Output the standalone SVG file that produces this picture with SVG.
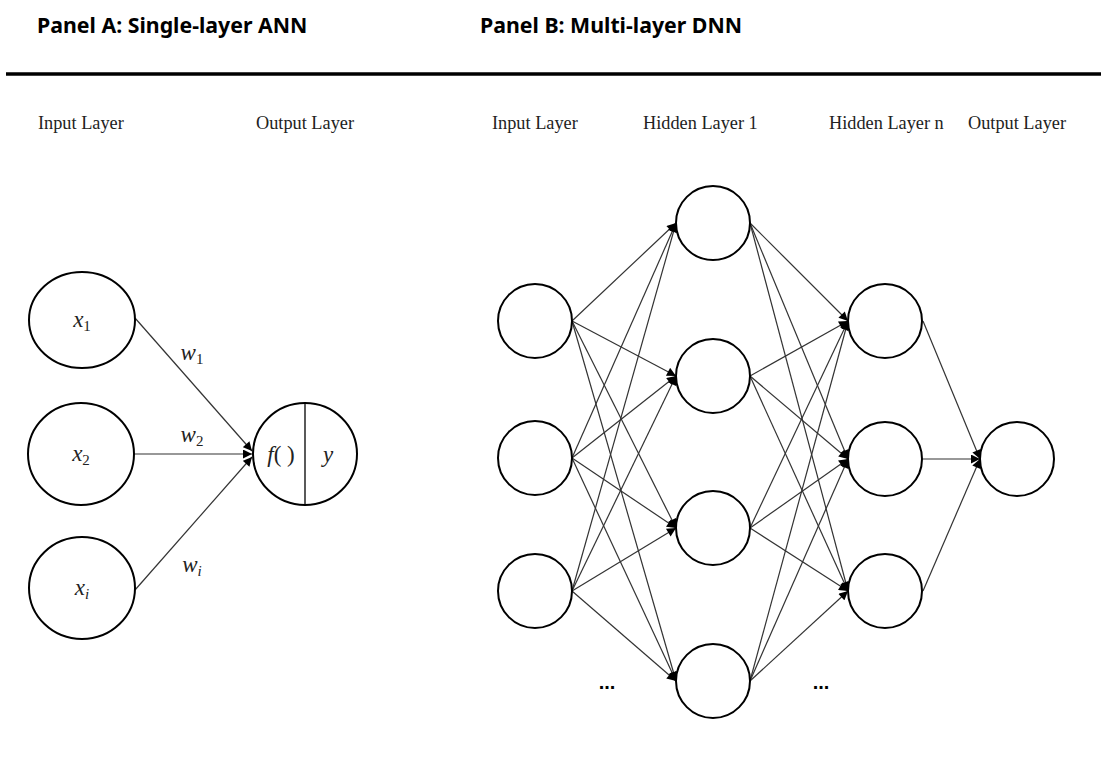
<svg xmlns="http://www.w3.org/2000/svg" width="1101" height="767" viewBox="0 0 1101 767">
<style>
.hdr{font-family:"Noto Sans","Open Sans",sans-serif;font-weight:bold;font-size:21.3px;fill:#000}
.lay{font-family:"Liberation Serif",serif;font-size:18.3px;fill:#222}
.node{fill:#fff;stroke:#000;stroke-width:2}
.math{font-family:"Liberation Serif",serif;font-style:italic;font-size:23px;fill:#222}
.sub{font-size:15px}
.up{font-style:normal}
.edge{stroke:#333;stroke-width:1.2;fill:none;marker-end:url(#arr)}
.dots{font-family:"Liberation Sans",sans-serif;font-size:20px;font-weight:bold;fill:#000}
</style>
<defs>
<marker id="arr" viewBox="0 0 10 10" refX="10" refY="5" markerWidth="10" markerHeight="9" markerUnits="userSpaceOnUse" orient="auto">
<path d="M0,0 L10,5 L0,10 z" fill="#000"/>
</marker>
</defs>
<rect width="1101" height="767" fill="#fff"/>
<text class="hdr" x="37" y="33">Panel A: Single-layer ANN</text>
<text class="hdr" x="480" y="33">Panel B: Multi-layer DNN</text>
<line x1="6" y1="74" x2="1101" y2="74" stroke="#000" stroke-width="3.5"/>

<text class="lay" x="38" y="129">Input Layer</text>
<text class="lay" x="256" y="129">Output Layer</text>
<text class="lay" x="492" y="129">Input Layer</text>
<text class="lay" x="643" y="129">Hidden Layer 1</text>
<text class="lay" x="829" y="129">Hidden Layer n</text>
<text class="lay" x="968" y="129">Output Layer</text>

<g id="connectors">
<line class="edge" x1="135" y1="318" x2="252" y2="451"/>
<line class="edge" x1="134" y1="454" x2="252" y2="454"/>
<line class="edge" x1="135" y1="590" x2="252" y2="457"/>

<line class="edge" x1="572" y1="321" x2="676" y2="223"/>
<line class="edge" x1="572" y1="321" x2="676" y2="376"/>
<line class="edge" x1="572" y1="321" x2="676" y2="528"/>
<line class="edge" x1="572" y1="321" x2="676" y2="681"/>
<line class="edge" x1="572" y1="458" x2="676" y2="223"/>
<line class="edge" x1="572" y1="458" x2="676" y2="376"/>
<line class="edge" x1="572" y1="458" x2="676" y2="528"/>
<line class="edge" x1="572" y1="458" x2="676" y2="681"/>
<line class="edge" x1="572" y1="591" x2="676" y2="223"/>
<line class="edge" x1="572" y1="591" x2="676" y2="376"/>
<line class="edge" x1="572" y1="591" x2="676" y2="528"/>
<line class="edge" x1="572" y1="591" x2="676" y2="681"/>

<line class="edge" x1="750" y1="223" x2="848" y2="321"/>
<line class="edge" x1="750" y1="223" x2="848" y2="459"/>
<line class="edge" x1="750" y1="223" x2="848" y2="591"/>
<line class="edge" x1="750" y1="376" x2="848" y2="321"/>
<line class="edge" x1="750" y1="376" x2="848" y2="459"/>
<line class="edge" x1="750" y1="376" x2="848" y2="591"/>
<line class="edge" x1="750" y1="528" x2="848" y2="321"/>
<line class="edge" x1="750" y1="528" x2="848" y2="459"/>
<line class="edge" x1="750" y1="528" x2="848" y2="591"/>
<line class="edge" x1="750" y1="681" x2="848" y2="321"/>
<line class="edge" x1="750" y1="681" x2="848" y2="459"/>
<line class="edge" x1="750" y1="681" x2="848" y2="591"/>

<line class="edge" x1="923" y1="321" x2="980" y2="459"/>
<line class="edge" x1="923" y1="459" x2="980" y2="459"/>
<line class="edge" x1="923" y1="591" x2="980" y2="459"/>
</g>

<g id="a-x1"><ellipse class="node" cx="82" cy="320" rx="53" ry="48"/><text class="math" x="82" y="327" text-anchor="middle">x<tspan class="sub up" dy="4">1</tspan></text></g>
<g id="a-x2"><ellipse class="node" cx="81" cy="454" rx="53" ry="51"/><text class="math" x="81" y="461" text-anchor="middle">x<tspan class="sub up" dy="4">2</tspan></text></g>
<g id="a-xi"><ellipse class="node" cx="82" cy="588" rx="53" ry="51"/><text class="math" x="82" y="595" text-anchor="middle">x<tspan class="sub" dy="4">i</tspan></text></g>
<g id="a-out">
<ellipse class="node" cx="305" cy="454" rx="52" ry="51"/>
<line x1="305" y1="403" x2="305" y2="505" stroke="#000" stroke-width="1.3"/>
<text class="math" x="281" y="462" text-anchor="middle">f<tspan class="up">( )</tspan></text>
<text class="math" x="328" y="462" text-anchor="middle">y</text>
</g>
<g id="a-weights">
<text class="math" x="192" y="360" text-anchor="middle">w<tspan class="sub up" dy="4">1</tspan></text>
<text class="math" x="192" y="442" text-anchor="middle">w<tspan class="sub up" dy="4">2</tspan></text>
<text class="math" x="192" y="572" text-anchor="middle">w<tspan class="sub" dy="4">i</tspan></text>
</g>

<g id="b-in1"><circle class="node" cx="535" cy="321" r="37"/></g>
<g id="b-in2"><circle class="node" cx="535" cy="458" r="37"/></g>
<g id="b-in3"><circle class="node" cx="535" cy="591" r="37"/></g>
<g id="b-h1-1"><circle class="node" cx="713" cy="223" r="37"/></g>
<g id="b-h1-2"><circle class="node" cx="713" cy="376" r="37"/></g>
<g id="b-h1-3"><circle class="node" cx="713" cy="528" r="37"/></g>
<g id="b-h1-4"><circle class="node" cx="713" cy="681" r="37"/></g>
<g id="b-hn-1"><circle class="node" cx="885" cy="321" r="37"/></g>
<g id="b-hn-2"><circle class="node" cx="885" cy="459" r="37"/></g>
<g id="b-hn-3"><circle class="node" cx="885" cy="591" r="37"/></g>
<g id="b-out"><circle class="node" cx="1017" cy="459" r="37"/></g>
<text class="dots" x="607" y="689" text-anchor="middle">...</text>
<text class="dots" x="821" y="689" text-anchor="middle">...</text>
</svg>
